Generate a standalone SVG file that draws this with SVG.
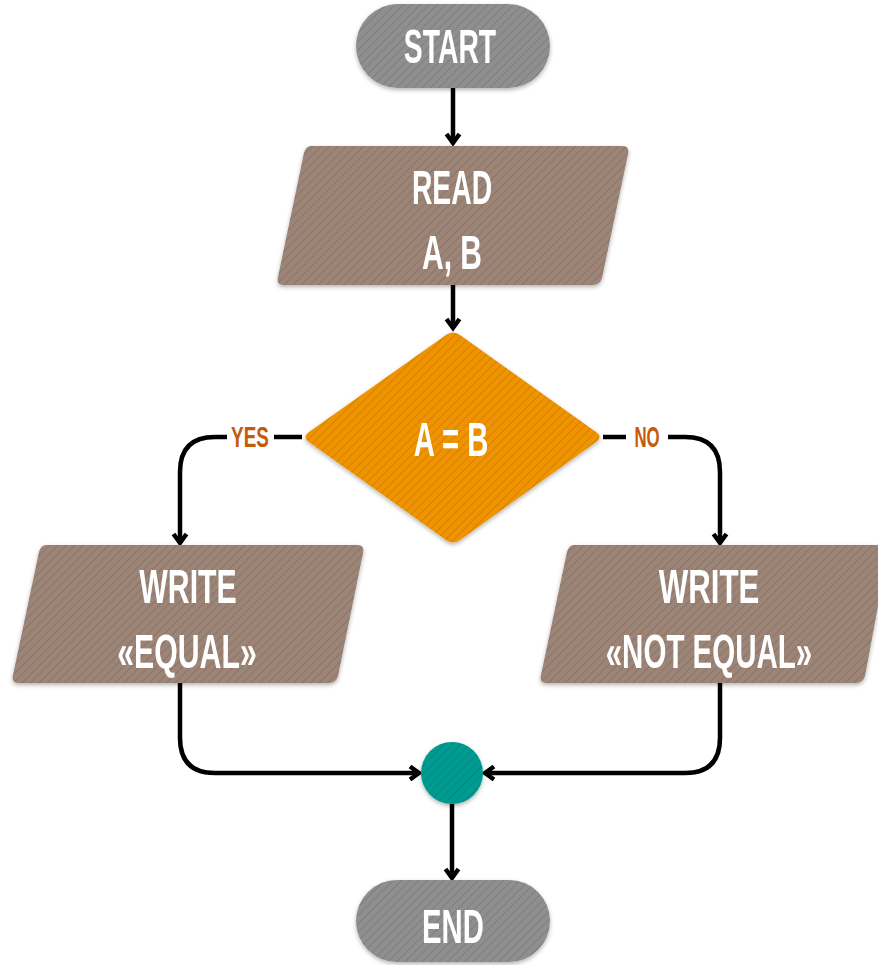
<svg xmlns="http://www.w3.org/2000/svg" width="878" height="965" viewBox="0 0 878 965">
<defs>
<pattern id="stripes" width="6" height="6" patternUnits="userSpaceOnUse" patternTransform="rotate(45)">
<rect width="6" height="6" fill="none"/>
<line x1="0" y1="0" x2="0" y2="6" stroke="#000" stroke-opacity="0.13" stroke-width="1.8"/>
</pattern>
<filter id="sh" x="-10%" y="-10%" width="120%" height="130%">
<feDropShadow dx="0" dy="2" stdDeviation="2" flood-color="#000" flood-opacity="0.3"/>
</filter>
<marker id="arr" markerWidth="18" markerHeight="18" refX="13" refY="9" orient="auto" markerUnits="userSpaceOnUse">
<path d="M4,2.5 L13,9 L4,15.5" fill="none" stroke="#000" stroke-width="4.5" stroke-linejoin="miter"/>
</marker>
<style>
.t{font-family:"Liberation Sans",Arial,sans-serif;font-weight:bold;font-size:48px;fill:#fff;text-anchor:middle}
.lbl{font-family:"Liberation Sans",Arial,sans-serif;font-weight:bold;font-size:30px;fill:#c55a0a;text-anchor:middle}
.grey{fill:#8f8f8f}
.brown{fill:#9c8477}
.orange{fill:#ef9300}
.teal{fill:#009b90}
.str{fill:url(#stripes)}
.c{fill:none;stroke:#000;stroke-width:4.5;marker-end:url(#arr)}
.cn{fill:none;stroke:#000;stroke-width:4.5}
</style>
</defs>
<rect width="878" height="965" fill="#fff"/>

<g id="connectors">
<path class="c" d="M453,88 V143"/>
<path class="c" d="M453,285 V328"/>
<path class="cn" d="M302,437 H274"/>
<path class="c" d="M227,437 H215 Q180,437 180,472 V543"/>
<path class="cn" d="M603,437 H626"/>
<path class="c" d="M668,437 H685 Q720,437 720,472 V543"/>
<path class="c" d="M180,683 V738 Q180,773 215,773 H419"/>
<path class="c" d="M720,683 V738 Q720,773 685,773 H485"/>
<path class="c" d="M452,804 V878"/>
<text class="lbl" transform="translate(250,447) scale(0.63,1)">YES</text>
<text class="lbl" transform="translate(647,447) scale(0.56,1)">NO</text>
</g>

<g id="start" filter="url(#sh)">
<rect class="grey" x="356" y="4" width="194" height="84" rx="42"/>
<rect class="str" x="356" y="4" width="194" height="84" rx="42"/>
<text class="t" transform="translate(450,63) scale(0.59,1)">START</text>
</g>

<g id="read" filter="url(#sh)">
<path class="brown" d="M311,146 H622 Q630,146 628,154 L602,278 Q600,285 593,285 H284 Q276,285 278,277 L304,153 Q306,146 311,146 Z"/>
<path class="str" d="M311,146 H622 Q630,146 628,154 L602,278 Q600,285 593,285 H284 Q276,285 278,277 L304,153 Q306,146 311,146 Z"/>
<text class="t" transform="translate(452,204) scale(0.59,1)">READ</text>
<text class="t" transform="translate(452,269) scale(0.625,1)">A, B</text>
</g>

<g id="decision" filter="url(#sh)">
<path class="orange" d="M446,335 Q453,330 460,335 L596,432 Q603,437 596,442 L460,540 Q453,545 446,540 L309,442 Q302,437 309,432 Z"/>
<path class="str" d="M446,335 Q453,330 460,335 L596,432 Q603,437 596,442 L460,540 Q453,545 446,540 L309,442 Q302,437 309,432 Z"/>
<text class="t" transform="translate(451,456) scale(0.61,1)">A = B</text>
</g>

<g id="write-equal" filter="url(#sh)">
<path class="brown" d="M46,545 H357 Q365,545 363,553 L338,676 Q336,683 329,683 H19 Q11,683 13,675 L39,552 Q41,545 46,545 Z"/>
<path class="str" d="M46,545 H357 Q365,545 363,553 L338,676 Q336,683 329,683 H19 Q11,683 13,675 L39,552 Q41,545 46,545 Z"/>
<text class="t" transform="translate(188,603) scale(0.63,1)">WRITE</text>
<text class="t" transform="translate(187,668) scale(0.63,1)">«EQUAL»</text>
</g>

<g id="write-not-equal" filter="url(#sh)">
<path class="brown" d="M574,545 H878 V606 L865,676 Q863,683 856,683 H547 Q539,683 541,675 L567,552 Q569,545 574,545 Z"/>
<path class="str" d="M574,545 H878 V606 L865,676 Q863,683 856,683 H547 Q539,683 541,675 L567,552 Q569,545 574,545 Z"/>
<text class="t" transform="translate(709,603) scale(0.65,1)">WRITE</text>
<text class="t" transform="translate(709,668) scale(0.615,1)">«NOT EQUAL»</text>
</g>

<g id="merge" filter="url(#sh)">
<circle class="teal" cx="452" cy="773" r="31"/>
<circle class="str" cx="452" cy="773" r="31"/>
</g>

<g id="end" filter="url(#sh)">
<rect class="grey" x="356" y="880" width="194" height="82" rx="41"/>
<rect class="str" x="356" y="880" width="194" height="82" rx="41"/>
<text class="t" transform="translate(453,943) scale(0.61,1)">END</text>
</g>
</svg>
